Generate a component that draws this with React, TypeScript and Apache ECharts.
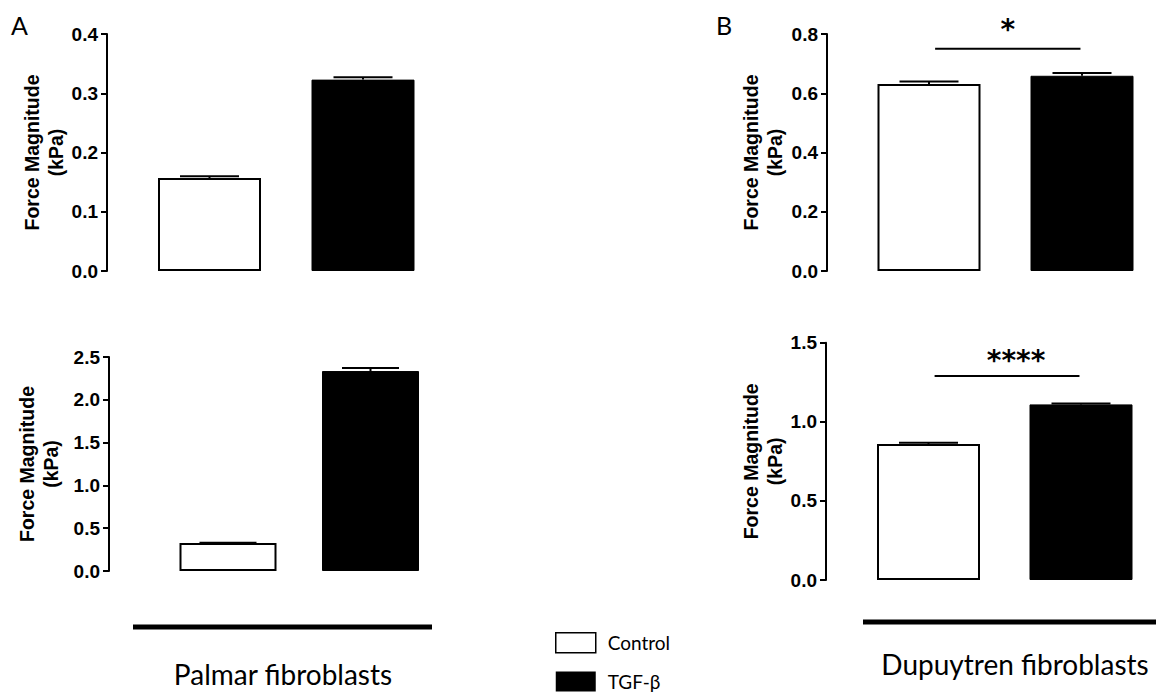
import React, { useEffect, useRef } from 'react';
import * as echarts from 'echarts';

// ---------- data ----------
const categories = ['Control', 'TGF-β'];
const palmarTopMean = [0.157, 0.323];
const palmarTopErr = [0.003, 0.004];
const palmarBottomMean = [0.327, 2.336];
const palmarBottomErr = [0.004, 0.035];
const dupTopMean = [0.631, 0.659];
const dupTopErr = [0.009, 0.009];
const dupBottomMean = [0.86, 1.11];
const dupBottomErr = [0.008, 0.005];
const yMaxes = [0.4, 2.5, 0.8, 1.5];
const yIntervals = [0.1, 0.5, 0.2, 0.5];
const sigLevels = [null, null, 0.75, 1.29];
const sigLabels = ['', '', '*', '****'];
const groupLabels = ['Palmar fibroblasts', 'Dupuytren fibroblasts'];
const panelLetters = ['A', 'B'];
const axisTitle = 'Force Magnitude\n(kPa)';

const means = [palmarTopMean, palmarBottomMean, dupTopMean, dupBottomMean];
const errs = [palmarTopErr, palmarBottomErr, dupTopErr, dupBottomErr];

// ---------- layout ----------
const layout = [
  { left: 209.5, top: 34, width: 153.5, height: 237, offset: 102.5, nameGap: 39, barWidth: 103, cap: 59, starGap: 19, starDx: 0 },
  { left: 228, top: 357, width: 142.5, height: 214, offset: 119, nameGap: 46, barWidth: 97, cap: 57, starGap: 16, starDx: 0 },
  { left: 929, top: 34, width: 153, height: 237, offset: 102, nameGap: 40, barWidth: 103, cap: 59, starGap: 19, starDx: 0 },
  { left: 928.5, top: 342.7, width: 152.5, height: 237.3, offset: 102.5, nameGap: 39, barWidth: 103, cap: 59, starGap: 15, starDx: 9 },
];

const AX_FONT = '"Liberation Sans", Arial, sans-serif';
const TXT_FONT = 'Lato, "Open Sans", sans-serif';

export default function App() {
  const ref = useRef<HTMLDivElement>(null);

  useEffect(() => {
    const chart = echarts.init(ref.current as HTMLDivElement, null, { renderer: 'svg' });

    const grid: any[] = [];
    const xAxis: any[] = [];
    const yAxis: any[] = [];
    const series: any[] = [];

    layout.forEach((L, i) => {
      grid.push({ left: L.left, top: L.top, width: L.width, height: L.height, containLabel: false });
      xAxis.push({ type: 'category', gridIndex: i, data: categories, boundaryGap: false, show: false });
      yAxis.push({
        type: 'value',
        gridIndex: i,
        min: 0,
        max: yMaxes[i],
        interval: yIntervals[i],
        offset: L.offset,
        axisLine: { show: true, lineStyle: { color: '#000', width: 2 } },
        axisTick: { show: true, length: 6, lineStyle: { color: '#000', width: 2 } },
        axisLabel: {
          margin: 9,
          color: '#000',
          fontSize: 19,
          fontWeight: 'bold',
          fontFamily: AX_FONT,
          formatter: (v: number) => v.toFixed(1),
        },
        splitLine: { show: false },
        name: axisTitle,
        nameLocation: 'middle',
        nameRotate: 90,
        nameGap: L.nameGap,
        nameTextStyle: { color: '#000', fontSize: 19.5, fontWeight: 'bold', fontFamily: AX_FONT, lineHeight: 24 },
      });

      series.push({
        type: 'bar',
        name: categories[0],
        xAxisIndex: i,
        yAxisIndex: i,
        data: [means[i][0], '-'],
        barWidth: L.barWidth,
        barGap: '-100%',
        clip: false,
        itemStyle: { color: '#fff', borderColor: '#000', borderWidth: 2 },
        z: 2,
      });
      series.push({
        type: 'bar',
        name: categories[1],
        xAxisIndex: i,
        yAxisIndex: i,
        data: ['-', means[i][1]],
        barWidth: L.barWidth,
        barGap: '-100%',
        clip: false,
        itemStyle: { color: '#000', borderColor: '#000', borderWidth: 1 },
        z: 2,
      });
      series.push({
        type: 'custom',
        xAxisIndex: i,
        yAxisIndex: i,
        clip: false,
        z: 3,
        silent: true,
        data: means[i].map((m, k) => [k, m, errs[i][k]]),
        renderItem: (params: any, api: any) => {
          const x = api.value(0);
          const m = api.value(1);
          const e = api.value(2);
          const base = api.coord([x, m]);
          const top = api.coord([x, m + e]);
          return {
            type: 'group',
            children: [
              { type: 'line', shape: { x1: base[0], y1: base[1], x2: top[0], y2: top[1] }, style: { stroke: '#000', lineWidth: 2 } },
              { type: 'line', shape: { x1: top[0] - L.cap / 2, y1: top[1], x2: top[0] + L.cap / 2, y2: top[1] }, style: { stroke: '#000', lineWidth: 2 } },
            ],
          };
        },
      });

      const sig = sigLevels[i];
      if (sig !== null) {
        series.push({
          type: 'custom',
          xAxisIndex: i,
          yAxisIndex: i,
          clip: false,
          silent: true,
          z: 3,
          data: [[0, sig]],
          renderItem: (params: any, api: any) => {
            const y = api.value(1);
            const p0 = api.coord([0, y]);
            const p1 = api.coord([1, y]);
            const w = p1[0] - p0[0];
            const xa = p0[0] + 0.04 * w;
            const xb = p0[0] + 0.99 * w;
            return {
              type: 'group',
              children: [
                { type: 'line', shape: { x1: xa, y1: p0[1], x2: xb, y2: p0[1] }, style: { stroke: '#000', lineWidth: 2 } },
                {
                  type: 'text',
                  x: (xa + xb) / 2 + L.starDx,
                  y: p0[1] - L.starGap,
                  style: {
                    text: sigLabels[i],
                    fill: '#000',
                    font: 'bold 28px "DejaVu Sans", sans-serif',
                    align: 'center',
                    verticalAlign: 'middle',
                  },
                },
              ],
            };
          },
        });
      }
    });

    const option: any = {
      animation: false,
      backgroundColor: '#fff',
      grid,
      xAxis,
      yAxis,
      series,
      legend: {
        orient: 'vertical',
        left: 555,
        top: 632,
        padding: 0,
        itemWidth: 40,
        itemHeight: 20,
        itemGap: 18,
        icon: 'rect',
        selectedMode: false,
        data: [
          { name: categories[0], itemStyle: { color: '#fff', borderColor: '#000', borderWidth: 1.5 } },
          { name: categories[1], itemStyle: { color: '#000', borderColor: '#000', borderWidth: 0 } },
        ],
        textStyle: { color: '#000', fontSize: 19, fontFamily: TXT_FONT, padding: [0, 0, 0, 7] },
      },
      graphic: [
        { type: 'text', x: 11, y: 25, style: { text: panelLetters[0], fill: '#000', font: '25px ' + TXT_FONT, verticalAlign: 'middle' } },
        { type: 'text', x: 716, y: 25, style: { text: panelLetters[1], fill: '#000', font: '25px ' + TXT_FONT, verticalAlign: 'middle' } },
        { type: 'line', shape: { x1: 133, y1: 627, x2: 432, y2: 627 }, style: { stroke: '#000', lineWidth: 5 } },
        { type: 'line', shape: { x1: 863, y1: 622, x2: 1156, y2: 622 }, style: { stroke: '#000', lineWidth: 5 } },
        { type: 'text', x: 283, y: 674, style: { text: groupLabels[0], fill: '#000', font: '28px ' + TXT_FONT, align: 'center', verticalAlign: 'middle' } },
        { type: 'text', x: 1015, y: 664, style: { text: groupLabels[1], fill: '#000', font: '28px ' + TXT_FONT, align: 'center', verticalAlign: 'middle' } },
      ],
    };

    chart.setOption(option);
    return () => chart.dispose();
  }, []);

  return <div ref={ref} style={{ position: 'fixed', left: 0, top: 0, width: 1156, height: 694 }} />;
}
